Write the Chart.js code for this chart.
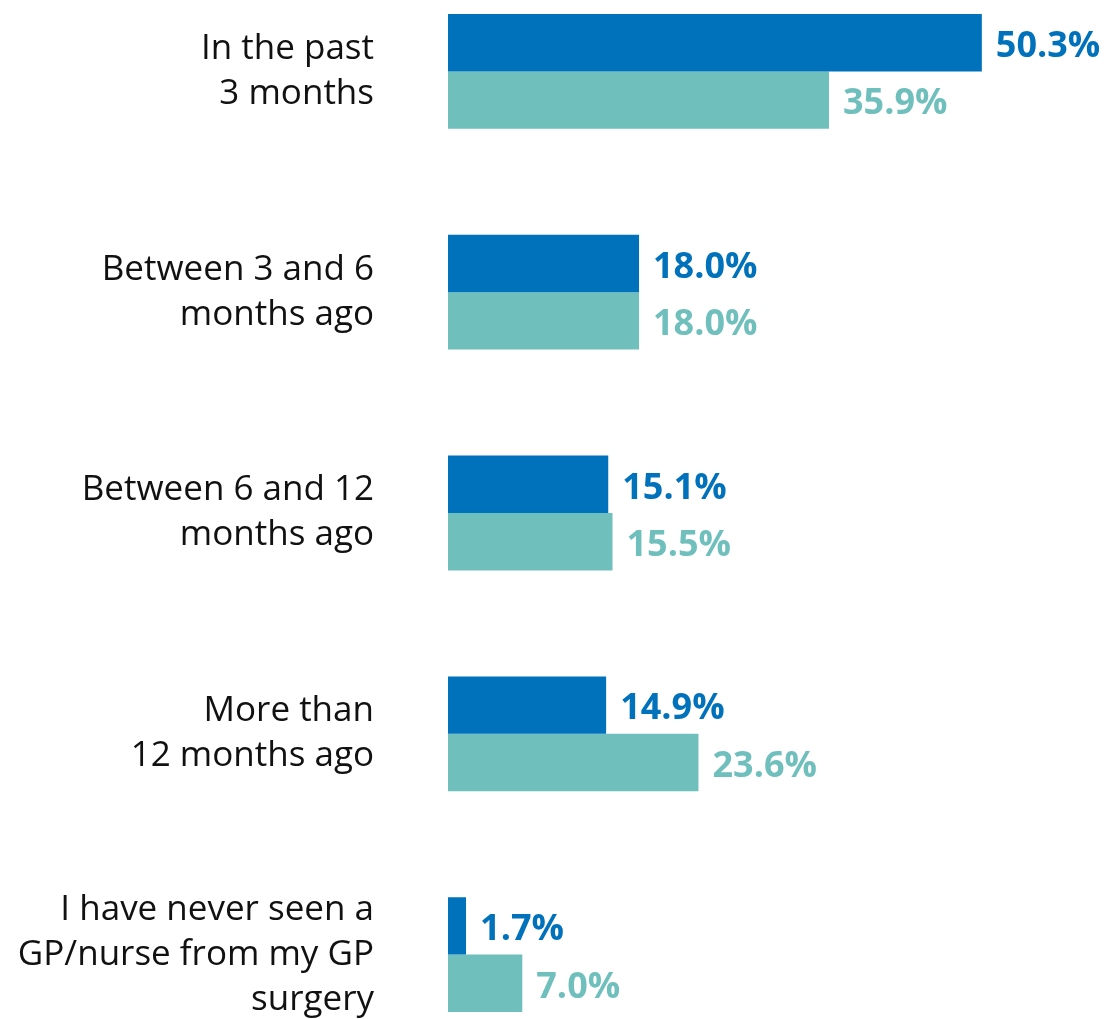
<!DOCTYPE html>
<html>
<head>
<meta charset="utf-8">
<script src="https://cdn.jsdelivr.net/npm/chart.js@4/dist/chart.umd.min.js"></script>
<style>
  html, body { margin: 0; padding: 0; background: #fff; overflow: hidden; }
  #wrap { position: relative; width: 1106px; height: 1019px; overflow: hidden; }
  #box { position: absolute; left: 0; top: -39px; width: 1106px; height: 1104px; }
</style>
</head>
<body>
<div id="wrap"><div id="box"><canvas id="c"></canvas></div></div>
<script>
const categories = [
  ["In the past", "3 months"],
  ["Between 3 and 6", "months ago"],
  ["Between 6 and 12", "months ago"],
  ["More than", "12 months ago"],
  ["I have never seen a", "GP/nurse from my GP", "surgery"]
];
const seriesA = [50.3, 18.0, 15.1, 14.9, 1.7];
const seriesB = [35.9, 18.0, 15.5, 23.6, 7.0];
const colorA = "#0071BB";
const colorB = "#6FBFBD";
const FONT = "'Open Sans', 'Noto Sans', sans-serif";

const valueLabels = {
  id: 'valueLabels',
  afterDatasetsDraw(chart) {
    const ctx = chart.ctx;
    ctx.save();
    ctx.font = "bold 36px " + FONT;
    ctx.textBaseline = 'middle';
    ctx.textAlign = 'left';
    chart.data.datasets.forEach((ds, di) => {
      const meta = chart.getDatasetMeta(di);
      meta.data.forEach((bar, i) => {
        ctx.fillStyle = ds.backgroundColor;
        ctx.fillText(ds.data[i].toFixed(1) + '%', bar.x + 14, bar.y + 4);
      });
    });
    ctx.restore();
  }
};

new Chart(document.getElementById('c'), {
  type: 'bar',
  data: {
    labels: categories,
    datasets: [
      { data: seriesA, backgroundColor: colorA, categoryPercentage: 0.52, barPercentage: 1 },
      { data: seriesB, backgroundColor: colorB, categoryPercentage: 0.52, barPercentage: 1 }
    ]
  },
  options: {
    indexAxis: 'y',
    responsive: true,
    maintainAspectRatio: false,
    animation: false,
    layout: { padding: 0 },
    plugins: { legend: { display: false }, tooltip: { enabled: false } },
    scales: {
      x: { display: false, min: 0, max: 62 },
      y: {
        grid: { display: false, drawTicks: false },
        border: { display: false },
        afterFit(scale) {
          scale.width = 448;
          scale.paddingTop = 0;
          scale.paddingBottom = 0;
        },
        ticks: {
          padding: 74,
          color: '#111',
          font: { family: FONT, size: 35, lineHeight: '45px' },
          crossAlign: 'near'
        }
      }
    }
  },
  plugins: [valueLabels]
});
</script>
</body>
</html>
